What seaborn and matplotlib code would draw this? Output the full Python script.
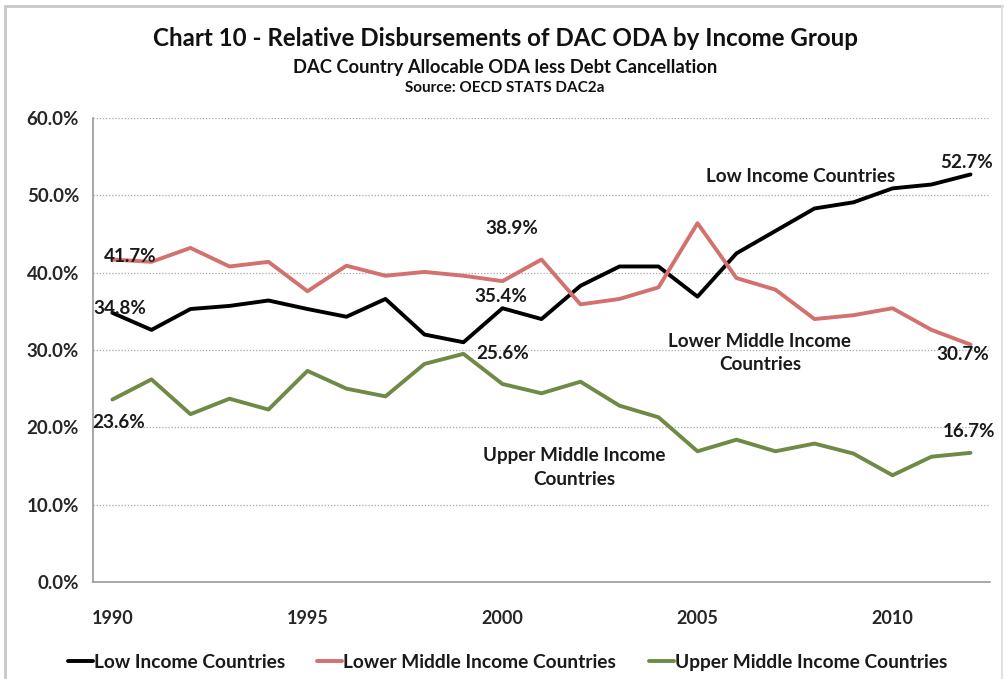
import numpy as np
import pandas as pd
import matplotlib
matplotlib.use('Agg')
import matplotlib.pyplot as plt
from matplotlib.ticker import FuncFormatter, FixedLocator
import seaborn as sns

# dati (% del totale)
anni = list(range(1990, 2013))
low_income = [34.8, 32.6, 35.3, 35.7, 36.4, 35.3, 34.3, 36.6, 32.0, 31.0, 35.4,
              34.0, 38.3, 40.8, 40.8, 36.9, 42.5, 45.4, 48.3, 49.1, 50.9, 51.4, 52.7]
lower_middle = [41.7, 41.4, 43.2, 40.8, 41.4, 37.6, 40.9, 39.6, 40.1, 39.6, 38.9,
                41.7, 35.9, 36.6, 38.1, 46.4, 39.3, 37.8, 34.0, 34.5, 35.4, 32.6, 30.7]
upper_middle = [23.6, 26.2, 21.7, 23.7, 22.3, 27.3, 25.0, 24.0, 28.2, 29.5, 25.6,
                24.4, 25.9, 22.8, 21.3, 16.9, 18.4, 16.9, 17.9, 16.6, 13.8, 16.2, 16.7]
serie = ['Low Income Countries', 'Lower Middle Income Countries', 'Upper Middle Income Countries']
anni_etichetta = [1990, 1995, 2000, 2005, 2010]

df = pd.DataFrame({'anno': anni, serie[0]: low_income, serie[1]: lower_middle, serie[2]: upper_middle})
df_long = df.melt(id_vars='anno', var_name='gruppo', value_name='quota')

sns.set_style('white')
plt.rcParams['font.family'] = ['Lato', 'DejaVu Sans']

colori = {serie[0]: '#000000', serie[1]: '#D2716E', serie[2]: '#6E8A45'}

fig = plt.figure(figsize=(10.06, 6.79), dpi=100)
ax = fig.add_axes([0.0924, 0.1429, 0.8917, 0.6833])

sns.lineplot(data=df_long, x='anno', y='quota', hue='gruppo', palette=colori,
             linewidth=2.8, ax=ax, legend=True)

# assi
ax.set_xlim(anni[0] - 0.5, anni[-1] + 0.5)
ax.set_ylim(0, 60)
ax.set_yticks(np.arange(0, 61, 10))
ax.yaxis.set_major_formatter(FuncFormatter(lambda v, p: f'{v:.1f}%'))
ax.set_xticks(anni_etichetta)
ax.xaxis.set_minor_locator(FixedLocator(np.arange(anni[0] - 0.5, anni[-1] + 1, 1)))
ax.tick_params(axis='x', which='major', length=0, pad=20, labelsize=13)
ax.tick_params(axis='x', which='minor', length=7, color='#9a9a9a', width=1, direction='out')
ax.tick_params(axis='y', length=5, color='#9a9a9a', width=1, direction='out', pad=5, labelsize=13.5)
for lab in ax.get_xticklabels() + ax.get_yticklabels():
    lab.set_fontweight('bold')
ax.set_xlabel('')
ax.set_ylabel('')
ax.grid(axis='y', linestyle=(0, (1, 1.5)), color='#a8a8a8', linewidth=0.9)
ax.set_axisbelow(True)
for s in ['top', 'right']:
    ax.spines[s].set_visible(False)
for s in ['left', 'bottom']:
    ax.spines[s].set_color('#9a9a9a')
    ax.spines[s].set_linewidth(1.2)

# etichette valori
fs = 13.6
kw = dict(fontsize=fs, fontweight='bold', color='#1a1a1a', ha='center', va='center')
ax.text(1990.45, lower_middle[0] + 0.4, f'{lower_middle[0]:.1f}%', **kw)
ax.text(1990.2, low_income[0] + 0.6, f'{low_income[0]:.1f}%', **kw)
ax.text(1990.15, upper_middle[0] - 3.0, f'{upper_middle[0]:.1f}%', **kw)
ax.text(2000.25, lower_middle[10] + 6.8, f'{lower_middle[10]:.1f}%', **kw)
ax.text(1999.95, low_income[10] + 1.5, f'{low_income[10]:.1f}%', **kw)
ax.text(2000.0, upper_middle[10] + 3.9, f'{upper_middle[10]:.1f}%', **kw)
ax.text(2011.9, low_income[-1] + 1.5, f'{low_income[-1]:.1f}%', **kw)
ax.text(2011.8, lower_middle[-1] - 1.3, f'{lower_middle[-1]:.1f}%', **kw)
ax.text(2011.95, upper_middle[-1] + 2.7, f'{upper_middle[-1]:.1f}%', **kw)

# nomi delle serie nel grafico
ax.text(2007.65, 52.5, serie[0], **kw)
ax.text(2006.6, 29.6, 'Lower Middle Income\nCountries', linespacing=1.45, **kw)
ax.text(2001.85, 14.8, 'Upper Middle Income\nCountries', linespacing=1.45, **kw)

# legenda in basso
leg = ax.legend(loc='lower center', bbox_to_anchor=(0.462, -0.228), ncol=3, frameon=False,
                handlelength=1.3, handletextpad=0.05, columnspacing=1.7,
                prop={'weight': 'bold', 'size': 13.8})
for t in leg.get_texts():
    t.set_color('#1a1a1a')

# titoli
fig.text(0.502, 0.944, 'Chart 10 - Relative Disbursements of DAC ODA by Income Group',
         ha='center', va='center', fontsize=17.4, fontweight='bold', color='#111111')
fig.text(0.502, 0.900, 'DAC Country Allocable ODA less Debt Cancellation',
         ha='center', va='center', fontsize=13.2, fontweight='bold', color='#111111')
fig.text(0.502, 0.871, 'Source: OECD STATS DAC2a',
         ha='center', va='center', fontsize=11, fontweight='bold', color='#111111')

# cornice del grafico
fig.add_artist(plt.Line2D([0.005, 0.996], [0.991, 0.991], color='#c8c8c8', linewidth=2,
                          transform=fig.transFigure))
fig.add_artist(plt.Line2D([0.005, 0.005], [0.0, 0.991], color='#c8c8c8', linewidth=2,
                          transform=fig.transFigure))
fig.add_artist(plt.Line2D([0.996, 0.996], [0.0, 0.991], color='#e0e0e0', linewidth=1.5,
                          transform=fig.transFigure))

fig.savefig('out.png', dpi=100)
